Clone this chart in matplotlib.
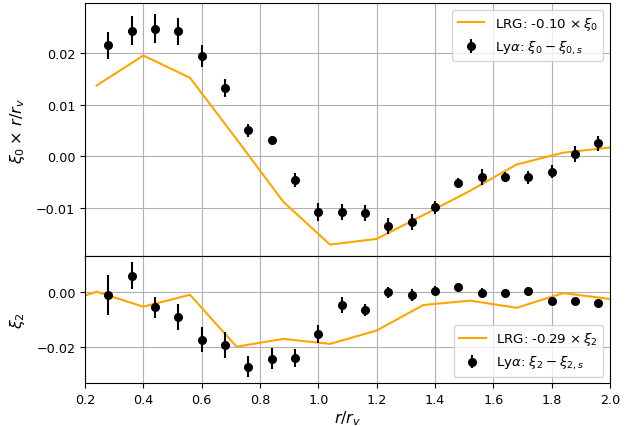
#!/usr/bin/env python3
"""Figure: xi_0 and xi_2 residuals (Lya) against scaled LRG multipoles."""
import matplotlib
matplotlib.use("Agg")
import matplotlib.pyplot as plt

matplotlib.rcParams["font.size"] = 9.2

# ── data ──────────────────────────────────────────────────────────────────────
r_lya = [0.28, 0.36, 0.44, 0.52, 0.60, 0.68, 0.76, 0.84, 0.92, 1.00, 1.08,
         1.16, 1.24, 1.32, 1.40, 1.48, 1.56, 1.64, 1.72, 1.80, 1.88, 1.96]
xi0_lya = [0.0215, 0.0243, 0.0247, 0.0242, 0.0194, 0.0132, 0.0050, 0.0032,
           -0.0046, -0.0108, -0.0108, -0.0110, -0.0135, -0.0127, -0.0099,
           -0.0051, -0.0040, -0.0040, -0.0041, -0.0030, 0.0004, 0.0025]
xi0_err = [0.0026, 0.0028, 0.0028, 0.0026, 0.0022, 0.0017, 0.0013, 0.0008,
           0.0014, 0.0018, 0.0016, 0.0016, 0.0015, 0.0016, 0.0013, 0.0008,
           0.0015, 0.0010, 0.0012, 0.0013, 0.0016, 0.0015]
xi2_lya = [-0.0012, 0.0058, -0.0056, -0.0092, -0.0173, -0.0191, -0.0270,
           -0.0242, -0.0239, -0.0152, -0.0048, -0.0065, -0.0002, -0.0011,
           0.0004, 0.0018, -0.0004, -0.0004, 0.0004, -0.0035, -0.0035, -0.0041]
xi2_err = [0.0072, 0.0048, 0.0038, 0.0047, 0.0045, 0.0047, 0.0038, 0.0038,
           0.0032, 0.0031, 0.0028, 0.0021, 0.0020, 0.0022, 0.0015, 0.0015,
           0.0018, 0.0012, 0.0012, 0.0012, 0.0012, 0.0012]

r_lrg0 = [0.24, 0.40, 0.56, 0.72, 0.88, 1.04, 1.20, 1.36, 1.52, 1.68, 1.84, 2.00]
xi0_lrg = [0.0137, 0.0195, 0.0152, 0.0033, -0.0088, -0.0171, -0.0160,
           -0.0114, -0.0067, -0.0016, 0.0007, 0.0017]
r_lrg2 = [0.08, 0.24, 0.40, 0.56, 0.72, 0.88, 1.04, 1.20, 1.36, 1.52, 1.68,
          1.84, 2.00]
xi2_lrg = [-0.0056, 0.0000, -0.0054, -0.0011, -0.0198, -0.0170, -0.0188,
           -0.0140, -0.0048, -0.0032, -0.0058, -0.0005, -0.0026]

# ── figure ────────────────────────────────────────────────────────────────────
fig, (ax0, ax2) = plt.subplots(2, 1, figsize=(6.34, 4.27), dpi=100, sharex=True,
                               gridspec_kw={"height_ratios": [2, 1]})
fig.subplots_adjust(left=0.134, right=0.962, top=0.991, bottom=0.1, hspace=0)

ax0.plot(r_lrg0, xi0_lrg, color="orange", label=r"LRG: -0.10 $\times\,\xi_0$")
ax0.errorbar(r_lya, xi0_lya, yerr=xi0_err, fmt="o", color="black", ms=5.5,
             label=r"Ly$\alpha$: $\xi_0 - \xi_{0,s}$")
ax0.set_ylim(-0.0194, 0.0297)
ax0.set_yticks([-0.01, 0.0, 0.01, 0.02])
ax0.set_ylabel(r"$\xi_0 \times\, r/r_v$", fontsize=11.5)
ax0.yaxis.set_label_coords(-0.11, 0.5)
ax0.grid(True)
ax0.legend(loc="upper right", fontsize=9.6)

ax2.plot(r_lrg2, xi2_lrg, color="orange", label=r"LRG: -0.29 $\times\,\xi_2$")
ax2.errorbar(r_lya, xi2_lya, yerr=xi2_err, fmt="o", color="black", ms=5.5,
             label=r"Ly$\alpha$: $\xi_2 - \xi_{2,s}$")
ax2.set_ylim(-0.033, 0.0127)
ax2.set_yticks([-0.02, 0.0])
ax2.set_ylabel(r"$\xi_2$", fontsize=11.5)
ax2.yaxis.set_label_coords(-0.11, 0.5)
ax2.grid(True)
ax2.legend(loc="lower right", fontsize=9.6)

ax2.set_xlim(0.2, 2.0)
ax2.set_xticks([0.2, 0.4, 0.6, 0.8, 1.0, 1.2, 1.4, 1.6, 1.8, 2.0])
ax2.set_xlabel(r"$r/r_v$", fontsize=11.5, labelpad=2)

fig.savefig("out.png", dpi=100)
